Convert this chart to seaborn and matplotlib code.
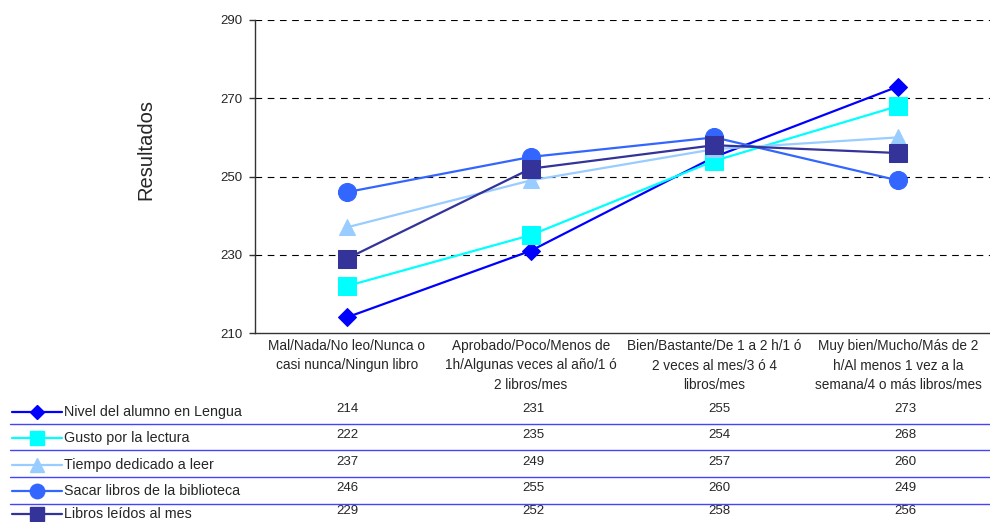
import matplotlib
matplotlib.use("Agg")
import matplotlib.pyplot as plt
from matplotlib.lines import Line2D
import seaborn as sns
import pandas as pd

categories = [
    "Mal/Nada/No leo/Nunca o\ncasi nunca/Ningun libro",
    "Aprobado/Poco/Menos de\n1h/Algunas veces al año/1 ó\n2 libros/mes",
    "Bien/Bastante/De 1 a 2 h/1 ó\n2 veces al mes/3 ó 4\nlibros/mes",
    "Muy bien/Mucho/Más de 2\nh/Al menos 1 vez a la\nsemana/4 o más libros/mes",
]
series_names = [
    "Nivel del alumno en Lengua",
    "Gusto por la lectura",
    "Tiempo dedicado a leer",
    "Sacar libros de la biblioteca",
    "Libros leídos al mes",
]
nivel = [214, 231, 255, 273]
gusto = [222, 235, 254, 268]
tiempo = [237, 249, 257, 260]
sacar = [246, 255, 260, 249]
libros = [229, 252, 258, 256]
values = [nivel, gusto, tiempo, sacar, libros]
yticks = [210, 230, 250, 270, 290]

colors = ["#0000FF", "#00FFFF", "#99CCFF", "#3366FF", "#333399"]
markers = ["D", "s", "^", "o", "s"]
msizes = [9, 13, 12, 13, 13]

sns.set_theme(style="white")
plt.rcParams["font.family"] = ["Liberation Sans", "DejaVu Sans"]

rows = []
for name, vals in zip(series_names, values):
    for i, v in enumerate(vals):
        rows.append({"x": i, "y": v, "serie": name})
df = pd.DataFrame(rows)

fig = plt.figure(figsize=(9.9, 5.22), dpi=100)
W, H = 990, 522
ax = fig.add_axes([255 / W, 1 - 333 / H, (990 - 255) / W, (333 - 20) / H])

sns.lineplot(data=df, x="x", y="y", hue="serie", style="serie",
             palette=dict(zip(series_names, colors)),
             markers=dict(zip(series_names, markers)), dashes=False,
             linewidth=1.6, legend=False, ax=ax)
for line, ms, c in zip(ax.lines, msizes, colors):
    line.set_markersize(ms)
    line.set_markeredgecolor(c)
    line.set_markerfacecolor(c)

ax.set_xlim(-0.5, 3.5)
ax.set_ylim(210, 290)
ax.set_yticks(yticks)
ax.set_yticklabels([str(t) for t in yticks], fontsize=9.5)
ax.tick_params(axis="y", length=4, width=1, color="#333333", pad=5, left=True)
ax.set_xticks([])
ax.set_xlabel("")
ax.set_ylabel("Resultados", fontsize=14.5)
ax.yaxis.set_label_coords((155 - 255) / 735, (333 - 150) / 313)
for t in yticks[1:]:
    ax.axhline(t, color="black", linestyle=(0, (6, 5)), linewidth=0.8, zorder=0)
for s in ["top", "right"]:
    ax.spines[s].set_visible(False)
for s in ["left", "bottom"]:
    ax.spines[s].set_color("#333333")
    ax.spines[s].set_linewidth(1.0)

# category labels
for i, c in enumerate(categories):
    xf = (255 + (i + 0.5) * (735 / 4)) / W
    fig.text(xf, 1 - 339 / H, c, ha="center", va="top", fontsize=9.8,
             linespacing=1.5)

# data table
row_y = [412, 438, 465, 491, 514]
col_x = [347, 533, 719, 905]
for r, (name, vals, c, m) in enumerate(zip(series_names, values, colors, markers)):
    yf = 1 - row_y[r] / H
    fig.add_artist(Line2D([12 / W, 62 / W], [yf, yf], color=c, linewidth=1.6,
                          transform=fig.transFigure))
    fig.add_artist(Line2D([37 / W], [yf], color=c, marker=m,
                          markersize=msizes[r] * 0.8, transform=fig.transFigure))
    fig.text(64 / W, yf, name, ha="left", va="center", fontsize=10.3)
    for j, v in enumerate(vals):
        fig.text(col_x[j] / W, yf + 3 / H, str(v), ha="center", va="center",
                 fontsize=9.5)
for sy in [424, 450, 477, 504]:
    yf = 1 - sy / H
    fig.add_artist(Line2D([10 / W, 1.0], [yf, yf], color="#4444FF",
                          linewidth=1.0, transform=fig.transFigure))

fig.savefig("out.png", dpi=100)
